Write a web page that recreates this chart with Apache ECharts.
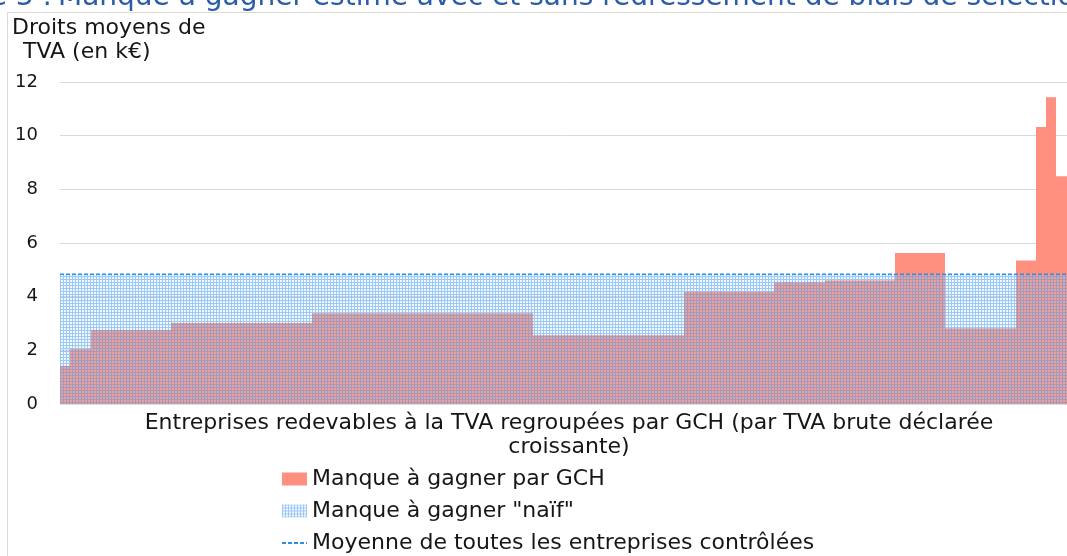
<!DOCTYPE html>
<html>
<head>
<meta charset="utf-8">
<script src="https://cdn.jsdelivr.net/npm/echarts@6/dist/echarts.min.js"></script>
<style>
html,body{margin:0;padding:0;background:#fff;}
#chart{width:1067px;height:556px;}
</style>
</head>
<body>
<div id="chart"></div>
<script>
// ---- Data ----
// cumulative group boundaries (share of companies, ordered by declared gross VAT)
const gchBounds = [0, 10, 31, 111, 252, 473, 624, 714, 765, 835, 885, 956, 976, 986, 996, 1007];
// average VAT shortfall per GCH (k€)
const gchValues = [1.42, 2.05, 2.76, 3.02, 3.38, 2.56, 4.18, 4.54, 4.60, 5.63, 2.82, 5.35, 10.32, 11.43, 8.49];
const naifValue = 4.84;
const moyenneValue = 4.84;
const yTicks = [0, 2, 4, 6, 8, 10, 12];

const FONT = '"DejaVu Sans", "Noto Sans", sans-serif';
const TXT = '#161616';

// pattern for the "naïf" area
const tile = document.createElement('canvas');
tile.width = 3; tile.height = 3;
const tc = tile.getContext('2d');
tc.fillStyle = 'rgba(190,220,250,0.22)';
tc.fillRect(0, 0, 3, 3);
tc.fillStyle = 'rgba(70,150,235,0.48)';
tc.fillRect(0, 0, 3, 1);
tc.fillRect(0, 1, 1, 2);
const pattern = { image: tile, repeat: 'repeat' };

const gchData = gchValues.map((v, i) => [gchBounds[i], gchBounds[i + 1], v]);
const total = gchBounds[gchBounds.length - 1];
const naifData = [[0, total, naifValue]];
const moyData = [[0, moyenneValue], [total, moyenneValue]];

function rectItem(params, api) {
  const x0 = api.value(0), x1 = api.value(1), y = api.value(2);
  const p0 = api.coord([x0, y]);
  const p1 = api.coord([x1, 0]);
  return {
    type: 'rect',
    shape: { x: p0[0], y: p0[1], width: p1[0] - p0[0], height: p1[1] - p0[1] },
    style: api.style()
  };
}

const chart = echarts.init(document.getElementById('chart'));
chart.setOption({
  animation: false,
  backgroundColor: '#fff',
  grid: { left: 60, right: 0, top: 82, bottom: 152, containLabel: false },
  xAxis: {
    type: 'value', min: 0, max: total, show: false
  },
  yAxis: {
    type: 'value', min: 0, max: 12, interval: 2,
    axisLine: { show: false }, axisTick: { show: false },
    axisLabel: { fontSize: 18, color: TXT, fontFamily: FONT, margin: 22,
      formatter: v => yTicks.includes(v) ? String(v) : '' },
    splitLine: { lineStyle: { color: '#D9D9D9', width: 1 } }
  },
  legend: {
    orient: 'vertical', left: 281, top: 468, padding: 0,
    itemWidth: 25, itemHeight: 13, itemGap: 10,
    textStyle: { fontSize: 22, color: TXT, fontFamily: FONT, lineHeight: 22 },
    data: [
      { name: 'Manque à gagner par GCH', icon: 'rect' },
      { name: 'Manque à gagner "naïf"', icon: 'rect' },
      { name: 'Moyenne de toutes les entreprises contrôlées',
        itemStyle: { color: 'rgba(0,0,0,0)', borderColor: 'rgba(0,0,0,0)', borderWidth: 0 } }
    ]
  },
  series: [
    {
      name: 'Manque à gagner par GCH', type: 'custom', renderItem: rectItem,
      itemStyle: { color: '#FF8F7E' },
      encode: { x: [0, 1], y: 2 }, data: gchData, z: 2
    },
    {
      name: 'Manque à gagner "naïf"', type: 'custom', renderItem: rectItem,
      itemStyle: { color: pattern },
      encode: { x: [0, 1], y: 2 }, data: naifData, z: 3
    },
    {
      name: 'Moyenne de toutes les entreprises contrôlées', type: 'line',
      data: moyData, symbol: 'none', z: 4,
      lineStyle: { color: '#2A8FE8', width: 1.5, type: [4, 2] },
      itemStyle: { color: '#2A8FE8' }
    }
  ],
  graphic: [
    { type: 'line', shape: { x1: 7, y1: 12.5, x2: 1067, y2: 12.5 }, style: { stroke: '#D9D9D9', lineWidth: 1 } },
    { type: 'line', shape: { x1: 7.5, y1: 12, x2: 7.5, y2: 556 }, style: { stroke: '#D9D9D9', lineWidth: 1 } },
    { type: 'text', x: 52, y: -2,
      style: { text: 'Graphique 3 :', fill: '#2B5CAA', font: '28px ' + FONT, textAlign: 'right', textVerticalAlign: 'middle' } },
    { type: 'text', x: 58, y: -2,
      style: { text: 'Manque à gagner estimé avec et sans redressement de biais de sélection', fill: '#2B5CAA', font: '28px ' + FONT, textAlign: 'left', textVerticalAlign: 'middle' } },
    { type: 'text', x: 12, y: 28,
      style: { text: 'Droits moyens de', fill: TXT, font: '22px ' + FONT, textAlign: 'left', textVerticalAlign: 'middle' } },
    { type: 'text', x: 23, y: 52,
      style: { text: 'TVA (en k€)', fill: TXT, font: '22px ' + FONT, textAlign: 'left', textVerticalAlign: 'middle' } },
    { type: 'text', x: 569, y: 423,
      style: { text: 'Entreprises redevables à la TVA regroupées par GCH (par TVA brute déclarée', fill: TXT, font: '22px ' + FONT, textAlign: 'center', textVerticalAlign: 'middle' } },
    { type: 'text', x: 569, y: 447,
      style: { text: 'croissante)', fill: TXT, font: '22px ' + FONT, textAlign: 'center', textVerticalAlign: 'middle' } }
  ]
});
</script>
</body>
</html>
